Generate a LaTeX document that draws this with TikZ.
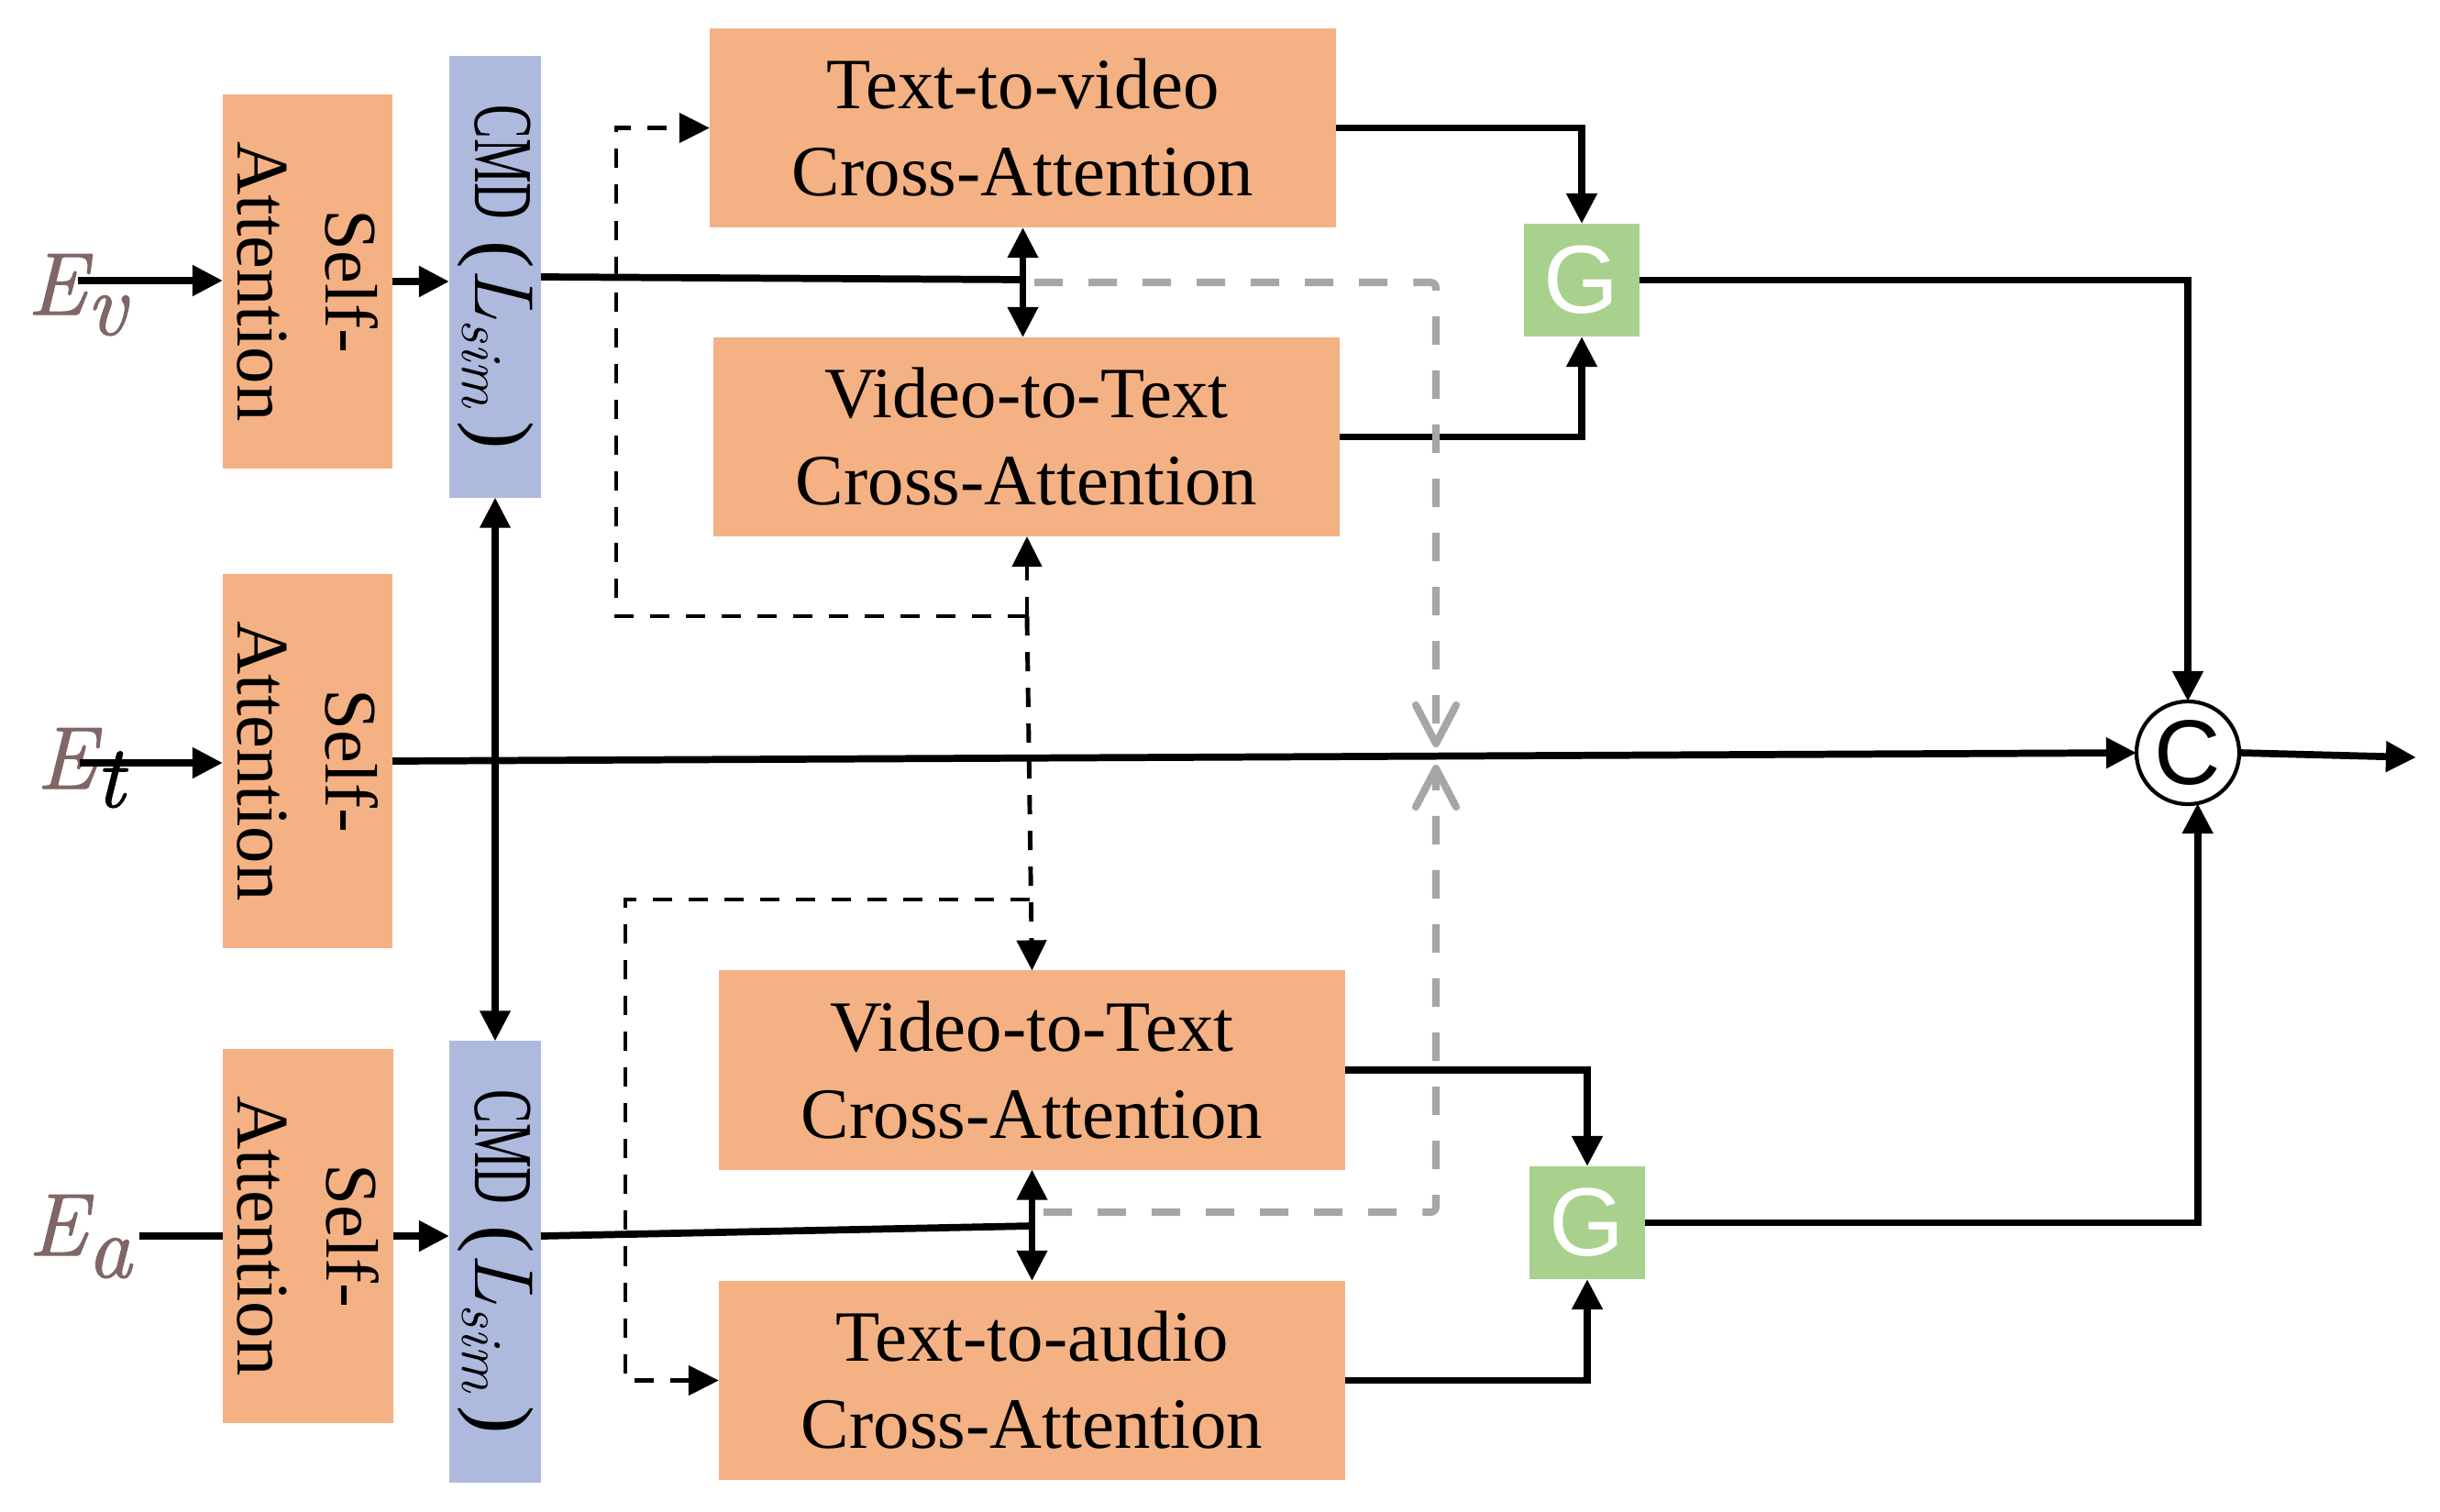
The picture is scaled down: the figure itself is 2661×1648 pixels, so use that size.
\documentclass[tikz,border=0pt]{standalone}
\usepackage{fontspec}
\setmainfont{Liberation Serif}
\newfontfamily\arialf{Liberation Sans}
\newfontfamily\lmr{Latin Modern Roman}
\newfontfamily\lmrb{Latin Modern Roman}[FakeBold=1.3]
\usepackage{graphicx}
\usetikzlibrary{arrows.meta}
\definecolor{boxorange}{HTML}{F4B183}
\definecolor{cmdblue}{HTML}{AEB9DE}
\definecolor{ggreen}{HTML}{A9D18E}
\definecolor{ecol}{HTML}{806666}
\definecolor{gdashc}{HTML}{A6A6A6}
\newcommand{\cmdlabel}{\scalebox{0.6}[1]{CMD} ({\lmr\itshape L\raisebox{-0.14cm}{\fontsize{18pt}{18pt}\selectfont sim}}\,)}
\begin{document}
\begin{tikzpicture}[x=0.01cm,y=-0.01cm,
  every node/.style={inner sep=0pt, outer sep=0pt},
  sabox/.style={fill=boxorange, minimum width=1.85cm, minimum height=4.07cm},
  cmdbox/.style={fill=cmdblue, minimum width=1.0cm, minimum height=4.81cm},
  cabox/.style={fill=boxorange, minimum width=6.83cm, minimum height=2.17cm, align=center, font=\fontsize{22.4pt}{27pt}\selectfont},
  gbox/.style={fill=ggreen, minimum width=1.26cm, minimum height=1.23cm, text=white, font=\arialf\fontsize{30pt}{30pt}\selectfont},
  cnode/.style={circle, draw, line width=1.2pt, minimum size=1.12cm, font=\arialf\fontsize{28.5pt}{28.5pt}\selectfont},
  satext/.style={rotate=-90, align=center, font=\fontsize{23pt}{27.5pt}\selectfont},
  cmdtext/.style={rotate=-90, font=\fontsize{26pt}{30pt}\selectfont},
  elabel/.style={anchor=base west, text=ecol, font=\lmrb\itshape\fontsize{27.5pt}{30pt}\selectfont},
  ln/.style={line width=2.2pt},
  arr/.style={line width=2.2pt, -{Triangle[length=0.33cm,width=0.32cm]}},
  darr/.style={line width=2pt, {Triangle[length=0.33cm,width=0.32cm]}-{Triangle[length=0.33cm,width=0.32cm]}},
  dsh/.style={line width=1.4pt, dash pattern=on 0.21cm off 0.18cm},
  dsharr/.style={dsh, -{Triangle[length=0.33cm,width=0.32cm]}},
  gd/.style={line width=2.3pt, draw=gdashc, dash pattern=on 0.31cm off 0.28cm, rounded corners=0.06cm, -{Straight Barb[round,length=0.42cm,width=0.44cm]}},
]
\useasboundingbox (0,0) rectangle (2661,1648);

% self-attention boxes
\node[sabox] (sa1) at (335.5,307) {};
\node[satext] at (sa1) {Self-\\Attention};
\node[sabox] (sa2) at (335.5,830) {};
\node[satext] at (sa2) {Self-\\Attention};
\node[sabox] (sa3) at (336,1348) {};
\node[satext] at (sa3) {Self-\\Attention};

% CMD boxes
\node[cmdbox] (cmd1) at (540,302) {};
\node[cmdtext] at (cmd1) {\cmdlabel};
\node[cmdbox] (cmd2) at (540,1376) {};
\node[cmdtext] at (cmd2) {\cmdlabel};

% cross-attention boxes
\node[cabox] (ttv) at (1115.5,139.5) {Text-to-video\\Cross-Attention};
\node[cabox] (vtt1) at (1119.5,476.5) {Video-to-Text\\Cross-Attention};
\node[cabox] (vtt2) at (1125.5,1167) {Video-to-Text\\Cross-Attention};
\node[cabox] (tta) at (1125.5,1505.5) {Text-to-audio\\Cross-Attention};

% gates and concat
\node[gbox] (g1) at (1725,305.5) {G};
\node[gbox] (g2) at (1731,1333.5) {G};
\node[cnode] (c) at (2386,821) {C};

% input labels
\node[elabel] (ev) at (30,343) {E\raisebox{-0.22cm}{v}};
\node[elabel] (et) at (40,860) {E\raisebox{-0.2cm}{\color{black}t}};
\node[elabel] (ea) at (31,1369) {E\raisebox{-0.24cm}{a}};

% coordinates
\coordinate (ev0) at (85,306);
\coordinate (et0) at (87,832);
\coordinate (ea0) at (152,1348);
\coordinate (j1) at (1116,305);
\coordinate (j2) at (1125.5,1337);
\coordinate (out) at (2635,826);
\coordinate (dj1) at (1120,672);
\coordinate (dl1) at (672,672);
\coordinate (dj2) at (1123,981);
\coordinate (dl2) at (682,981);
\coordinate (gs1) at (1128,308);
\coordinate (gc1) at (1566,308);
\coordinate (gt1) at (1566,815);
\coordinate (gs2) at (1138,1322);
\coordinate (gc2) at (1566,1322);
\coordinate (gt2) at (1566,834);

% solid connectors
\draw[arr] (ev0) -- (ev0 -| sa1.west);
\draw[arr] (sa1.east) -- (sa1.east -| cmd1.west);
\draw[ln] (cmd1.east) -- (j1);
\draw[darr] (ttv.south) -- (ttv.south |- vtt1.north);
\draw[arr] (ttv.east) -| (g1.north);
\draw[arr] (vtt1.east) -| (g1.south);
\draw[arr] (g1.east) -| (c.north);
\draw[arr] (et0) -- (et0 -| sa2.west);
\draw[arr] (sa2.east) -- (c.west);
\draw[arr] (c.east) -- (out);
\draw[darr] (cmd1.south) -- (cmd2.north);
\draw[ln] (ea0) -- (ea0 -| sa3.west);
\draw[arr] (sa3.east) -- (sa3.east -| cmd2.west);
\draw[ln] (sa3.east -| cmd2.east) -- (j2);
\draw[darr] (vtt2.south) -- (tta.north);
\draw[arr] (vtt2.east) -| (g2.north);
\draw[arr] (tta.east) -| (g2.south);
\draw[arr] (g2.east) -| (c.-79);

% dashed black connectors
\draw[dsharr] (dj1) -- (dj1 |- vtt1.south);
\draw[dsharr] (dj1) -- (dl1) |- (ttv.west);
\draw[dsharr] (dj1) -- (vtt2.north);
\draw[dsharr] (dj2) -- (dl2) |- (tta.west);

% gray dashed connectors
\draw[gd] (gs1) -- (gc1) -- (gt1);
\draw[gd] (gs2) -- (gc2) -- (gt2);
\end{tikzpicture}
\end{document}
